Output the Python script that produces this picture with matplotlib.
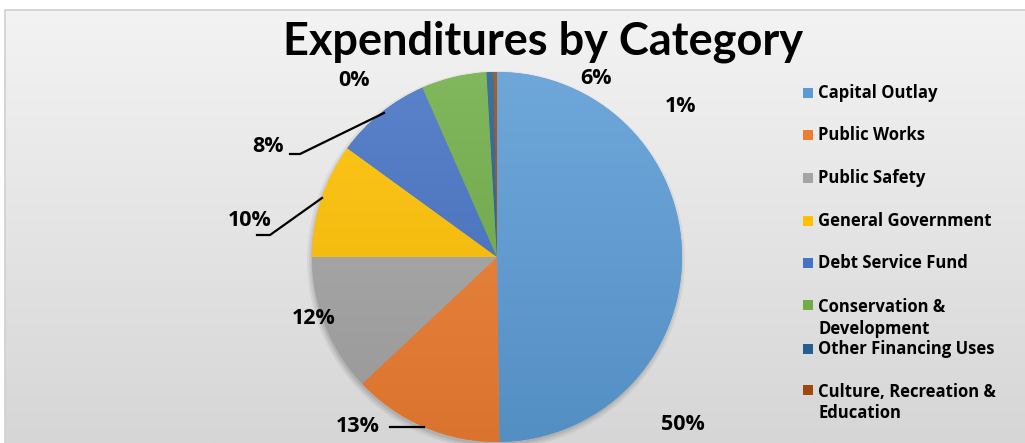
import numpy as np
import matplotlib
matplotlib.use("Agg")
import matplotlib.pyplot as plt
from matplotlib.colors import to_rgb
from matplotlib.patches import Rectangle, Circle

categories = ["Capital Outlay", "Public Works", "Public Safety", "General Government",
              "Debt Service Fund", "Conservation &\nDevelopment", "Other Financing Uses",
              "Culture, Recreation &\nEducation"]
shares = [49.8, 13.2, 12.0, 10.0, 8.4, 5.7, 0.6, 0.3]
colors = ["#5B9BD5", "#ED7D31", "#A5A5A5", "#FFC000", "#4472C4", "#70AD47", "#255E91", "#9E480E"]
pct_labels = [f"{round(v):d}%" for v in shares]

W, H = 1025, 443
fig = plt.figure(figsize=(W / 100, H / 100), dpi=100)
fig.patch.set_facecolor("white")
ax = fig.add_axes([0, 0, 1, 1])


def py(y):
    # pixel row from top -> data y
    return H - y


cx, cy, r = 497, py(257), 185

wedges, _ = ax.pie(shares, colors=colors, startangle=90, counterclock=False,
                   center=(cx, cy), radius=r, frame=True,
                   wedgeprops=dict(linewidth=0, zorder=3))
ax.set_xlim(0, W)
ax.set_ylim(0, H)
ax.set_aspect("equal")
ax.axis("off")

# chart area background with vertical gradient
bg = np.linspace(0, 1, 256)[:, None]
top_c = np.array(to_rgb("#f3f3f3"))
bot_c = np.array(to_rgb("#d6d6d6"))
bg_img = top_c[None, None, :] * (1 - bg[..., None]) + bot_c[None, None, :] * bg[..., None]
ax.imshow(bg_img, extent=[5, W + 5, 0, py(10)], aspect="auto", zorder=0)
ax.plot([5, 5, W], [0, py(10), py(10)], color="#d0d0d0", lw=1.2, zorder=1)

# soft shadow
for i, a in enumerate([0.05, 0.06, 0.08]):
    ax.add_patch(Circle((cx - 1, cy - 3), r + 4 - 2 * i, color="black", alpha=a, lw=0, zorder=2))

# gradient fill of each slice (lighter top, darker bottom)
t = np.linspace(0, 1, 256)[:, None, None]
for w, c in zip(wedges, colors):
    base = np.array(to_rgb(c))
    light = base + (1 - base) * 0.12
    dark = base * 0.92
    img = light[None, None, :] * (1 - t) + dark[None, None, :] * t
    img = np.repeat(img, 2, axis=1)
    im = ax.imshow(img, extent=[cx - r, cx + r, cy - r, cy + r], aspect="auto", zorder=4)
    im.set_clip_path(w)

ax.set_xlim(0, W)
ax.set_ylim(0, H)

# title
ax.text(543, py(42), "Expenditures by Category", ha="center", va="center",
        fontsize=32.5, fontweight="bold", family="Lato", color="black", zorder=6)

# percent labels (placed as in the reference)
label_pos = [(683, 425), (358, 426), (314, 318), (250, 220), (268, 146), (596, 78), (681, 106), (354, 80)]
for (x, y), s in zip(label_pos, pct_labels):
    ax.text(x, py(y), s, ha="center", va="center", fontsize=15.5, fontweight="bold",
            family="Open Sans", color="black", zorder=6)

# leader lines
ax.plot([290, 300, 384], [py(154), py(154), py(113)], color="black", lw=1.6, zorder=6)
ax.plot([257, 270, 322], [py(235), py(235), py(198)], color="black", lw=1.6, zorder=6)
ax.plot([390, 424], [py(427), py(427)], color="black", lw=1.6, zorder=6)

# legend
leg_y = [93, 135, 178, 221, 263, 305, 349, 390]
for y, name, c in zip(leg_y, categories, colors):
    ax.add_patch(Rectangle((803, py(y) - 5), 10, 10, color=c, lw=0, zorder=6))
    if "\n" in name:
        ax.text(818, py(y - 7), name, ha="left", va="top", fontsize=12, fontweight="bold",
                family="Open Sans", color="black", linespacing=1.25, zorder=6)
    else:
        ax.text(818, py(y), name, ha="left", va="center", fontsize=12, fontweight="bold",
                family="Open Sans", color="black", zorder=6)

fig.savefig("out.png", dpi=100, facecolor="white")
